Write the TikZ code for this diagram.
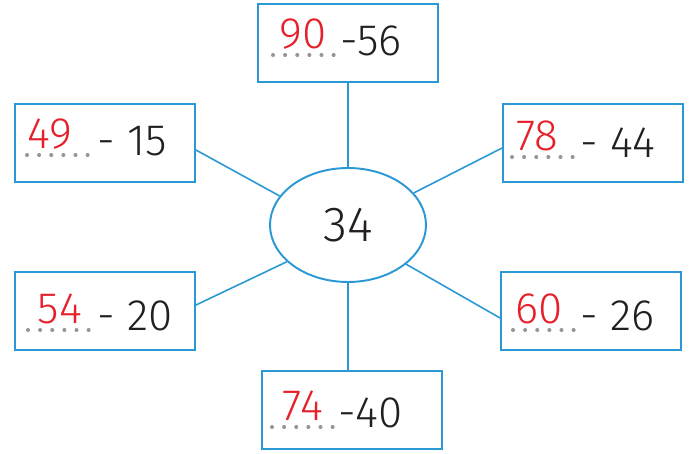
\documentclass[tikz,border=0pt]{standalone}
\usepackage{fontspec}
\setmainfont{Fira Sans}[UprightFont=* Light]
\usetikzlibrary{shapes.geometric,calc}
\definecolor{lineblue}{RGB}{41,152,212}
\definecolor{ansred}{RGB}{230,32,42}
\definecolor{dotgrey}{RGB}{150,150,150}
\definecolor{inkblack}{RGB}{35,31,32}

\begin{document}
\begin{tikzpicture}[x=0.02cm,y=-0.02cm,
    box/.style={draw=lineblue,line width=1.1pt,minimum width=3.6cm,minimum height=1.56cm},
    link/.style={draw=lineblue,line width=0.9pt},
    ans/.style={text=ansred,font=\fontsize{25}{29}\selectfont,anchor=base,inner sep=0pt},
    sum/.style={text=inkblack,font=\fontsize{25}{29}\selectfont,anchor=base west,inner sep=0pt},
    dotrow/.style={draw=dotgrey,line width=2.3pt,line cap=round,dash pattern=on 0pt off 6.9pt}]
  \useasboundingbox (0,0) rectangle (699,453);

  % centre
  \node[draw=lineblue,line width=1.1pt,ellipse,minimum width=3.12cm,minimum height=2.28cm,
        text=inkblack,font=\fontsize{28}{32}\selectfont] (mid) at (348,225) {34};

  % boxes: name / centre / answer / answer x / baseline / dots start / rest x / rest
  \foreach \n/\cx/\cy/\a/\ax/\by/\da/\rx/\rest in {
      top/348/43/90/303/55/273/340/{-56},
      ul/105/143/49/50/155/27/97/{- 15},
      ur/593/143/78/537/157/512/580/{- 44},
      ll/105/311/54/60/330/28/97/{- 20},
      lr/591/311/60/539/330/513/580/{- 26},
      bot/352/410/74/303/427/272/338/{-40}}{
    \node[box] (\n) at (\cx,\cy) {};
    \draw[dotrow] (\da,\by) -- ++(62,0);
    \node[ans] (\n-a) at (\ax,\by-7) {\a};
    \node[sum] (\n-b) at (\rx,\by) {\rest};
  }

  % links
  \draw[link] (top.south) -- (mid.north);
  \draw[link] ($(ul.east)+(0,7)$) -- (mid.157);
  \draw[link] ($(ur.west)+(0,5)$) -- (mid.26);
  \draw[link] ($(ll.east)+(0,-6)$) -- (mid.211);
  \draw[link] ($(lr.west)+(0,7)$) -- (mid.326);
  \draw[link] (mid.south) -- (mid.south |- bot.north);
\end{tikzpicture}
\end{document}
